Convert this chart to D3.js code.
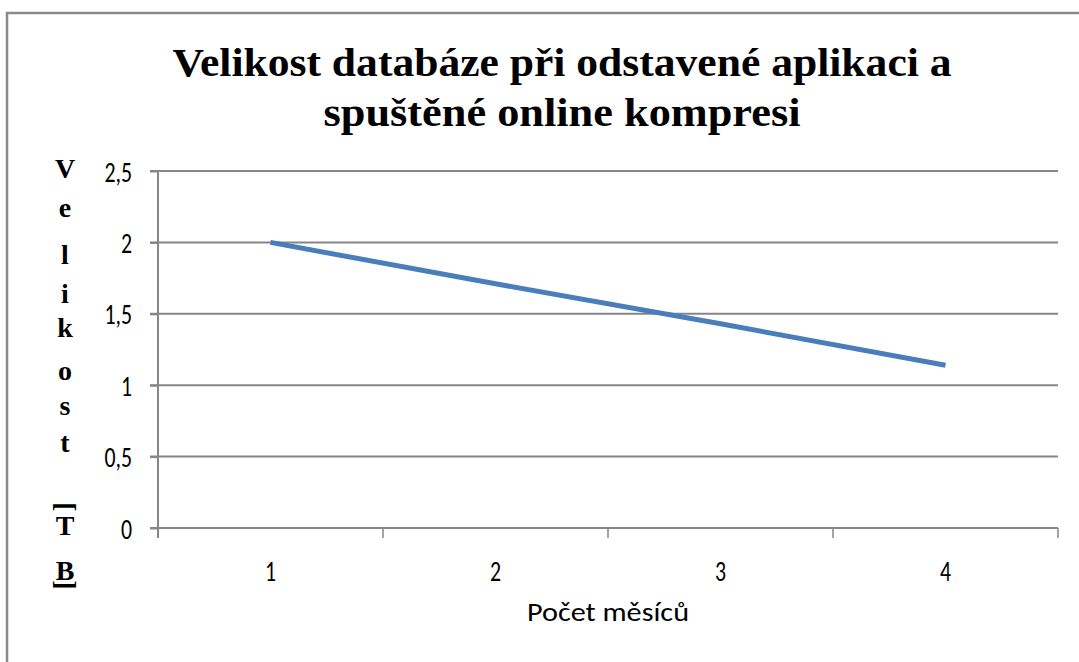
<html>
<script src="https://d3js.org/d3.v7.min.js"></script>
<style>
body { margin: 0; background: white; }
</style>
<body>
<svg width="1079" height="662"></svg>
<script>
// data
const months = ["1", "2", "3", "4"];
const sizeTB = [2.0, 1.71, 1.43, 1.14];
const yTicks = [0, 0.5, 1, 1.5, 2, 2.5];
const titleLines = ["Velikost databáze při odstavené aplikaci a", "spuštěné online kompresi"];
const yLabelChars = ["V", "e", "l", "i", "k", "o", "s", "t", "[", "T", "B", "]"];
const xTitle = "Počet měsíců";

const svg = d3.select("svg");
const plotL = 158, plotR = 1058, plotT = 171, plotB = 528;
const sans = "Calibri, Carlito, 'Liberation Sans', Arial, sans-serif";
const serif = "'Liberation Serif', 'Times New Roman', serif";

// outer frame
svg.append("rect")
  .attr("x", 7).attr("y", 13)
  .attr("width", 1090).attr("height", 670)
  .attr("fill", "white")
  .attr("stroke", "#8a8a8a").attr("stroke-width", 2.5);

const x = d3.scaleBand().domain(months).range([plotL, plotR]);
const y = d3.scaleLinear().domain([0, 2.5]).range([plotB, plotT]);

// gridlines
svg.append("g").selectAll("line")
  .data(yTicks)
  .join("line")
  .attr("x1", plotL - 8).attr("x2", plotR)
  .attr("y1", d => y(d)).attr("y2", d => y(d))
  .attr("stroke", "#868686").attr("stroke-width", 2);

// y axis
const yAxis = svg.append("g")
  .attr("transform", `translate(${plotL},0)`)
  .call(d3.axisLeft(y).tickValues(yTicks).tickSize(8)
    .tickFormat(d => String(d).replace(".", ",")));
yAxis.select(".domain").attr("stroke", "#868686").attr("stroke-width", 2)
  .attr("d", `M0,${plotT}V${plotB + 10}`);
yAxis.selectAll(".tick line").attr("stroke", "#868686").attr("stroke-width", 2);
yAxis.selectAll(".tick text")
  .attr("x", 0).attr("dy", "0.36em")
  .attr("transform", "translate(-26,0) scale(0.78,1)")
  .style("font-family", sans)
  .style("font-size", "28px").attr("fill", "#000");

// x axis
const xAxis = svg.append("g")
  .attr("transform", `translate(0,${plotB})`)
  .call(d3.axisBottom(x).tickSize(0));
xAxis.select(".domain").remove();
xAxis.selectAll(".tick text")
  .attr("y", 0).attr("dy", 0)
  .attr("transform", "translate(0,53) scale(0.78,1)")
  .style("font-family", sans)
  .style("font-size", "28px").attr("fill", "#000");
svg.append("g").selectAll("line")
  .data(months)
  .join("line")
  .attr("x1", d => x(d) + x.bandwidth()).attr("x2", d => x(d) + x.bandwidth())
  .attr("y1", plotB).attr("y2", plotB + 10)
  .attr("stroke", "#868686").attr("stroke-width", 1.5);

// series line
svg.append("path")
  .datum(sizeTB)
  .attr("fill", "none")
  .attr("stroke", "#4a7ebb")
  .attr("stroke-width", 5)
  .attr("d", d3.line().x((d, i) => x(months[i]) + x.bandwidth() / 2).y(d => y(d)));

// title, stretched to the width it has in the picture
const titleWidths = [779, 477];
svg.append("g").selectAll("text")
  .data(titleLines)
  .join("text")
  .attr("x", 562).attr("y", (d, i) => 76 + i * 50)
  .attr("text-anchor", "middle")
  .attr("textLength", (d, i) => titleWidths[i])
  .attr("lengthAdjust", "spacingAndGlyphs")
  .style("font-family", serif)
  .style("font-weight", "bold").style("font-size", "39px")
  .text(d => d);

// vertical y label, stacked letters; brackets are turned on their side
const labelY = [178, 217, 264, 303, 337, 380, 415, 452, 507, 535, 580, 585];
svg.append("g").selectAll("text")
  .data(yLabelChars)
  .join("text")
  .attr("text-anchor", "middle")
  .attr("transform", (d, i) => (d === "[" || d === "]")
      ? `translate(64,${labelY[i]}) rotate(90)`
      : `translate(65,${labelY[i]})`)
  .attr("dy", d => (d === "[" || d === "]") ? "0.25em" : "0")
  .style("font-family", serif)
  .style("font-weight", "bold").style("font-size", "28px")
  .text(d => d);

// x title
svg.append("text")
  .attr("x", 608).attr("y", 621)
  .attr("text-anchor", "middle")
  .attr("textLength", 162).attr("lengthAdjust", "spacingAndGlyphs")
  .style("font-family", sans)
  .style("font-size", "26px")
  .text(xTitle);
</script>
</body>
</html>
